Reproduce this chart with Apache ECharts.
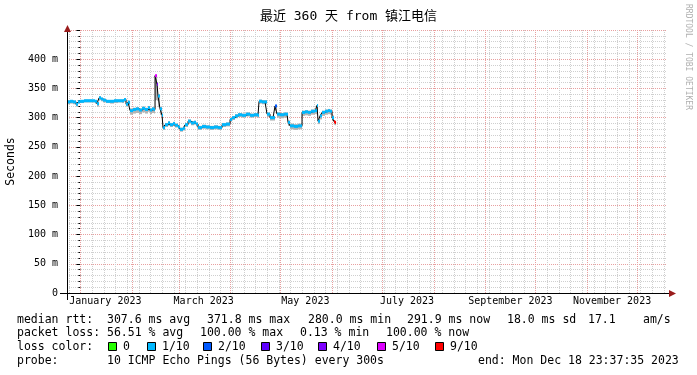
<!DOCTYPE html>
<html><head><meta charset="utf-8">
<script src="https://cdn.jsdelivr.net/npm/echarts@6/dist/echarts.min.js"></script>
<style>html,body{margin:0;padding:0;background:#fff}#c{width:697px;height:375px}</style>
</head><body><div id="c"></div>
<script>
// x values: days since 2023-01-01 00:00
const days    = [-8.0,-6.2,-4.4,-2.6,-1.4,-0.2,2.2,4.6,7.0,8.8,10.0,11.2,12.4,13.6,15.4,17.8,20.2,22.6,25.0,26.2,27.4,28.6,29.2,29.8,31.6,33.4,35.2,37.0,38.8,40.6,41.8,43.0,44.2,44.8,46.0,46.6,47.8,49.0,49.6,50.8,52.6,53.8,55.6,56.8,58.6,59.8,61.6,62.8,64.6,66.4,68.2,69.4,70.6,73.0,75.4,77.8,80.2,82.6,85.0,87.4,89.8,91.0,92.8,94.6,97.0,99.4,101.8,104.2,106.6,107.2,109.0,110.8,112.0,113.8,115.6,116.8,118.0,119.8,122.2,124.0,124.6,125.8,128.2,130.6,131.8,133.0,134.8,136.6,138.4,140.8,142.0,142.6,143.8,145.0,146.8,148.6,149.8,151.0,152.2,152.8];
const median  = [327,328,327,323,327,328,329,329,329,328,324,334,332,330,328,328,329,329,329,331,323,327,326,312,314,315,313,316,314,317,313,315,314,371.8,357,337,315,304,283,288,291,288,290,287,284,280.0,282,288,294,291,292,289,283,285,284,283,284,283,288,289,297,300,303,305,304,306,304,305,304,328,327,327,306,300,300,320,306,305,306,306,292,286,285,286,286,309,310,309,311,312,321,294,303,309,311,312,311,300,293,291.9];
const smokeLo = [323,324,323,319,324,325,326,326,326,324,319,330,328,326,325,324,325,326,325,327,319,323,322,305,307,308,306,309,307,310,306,308,307,330,330,318,305,298,279,284,287,284,286,283,280,276,278,284,290,287,288,285,279,281,280,279,280,279,284,285,293,296,299,301,300,302,300,301,300,324,323,323,301,295,295,312,300,299,300,300,286,280,279,280,280,303,304,303,305,306,312,289,297,303,305,306,305,295,288,287];
const smokeHi = [330,330,329,326,329,330,331,331,330,330,327,337,334,332,330,330,331,331,331,333,326,329,328,316,317,318,316,319,317,320,316,318,317,372,360,340,318,307,286,291,294,291,293,290,287,283,285,291,297,294,295,292,286,288,287,286,287,286,291,292,300,303,306,308,307,309,307,308,307,331,330,330,309,303,303,322,309,308,309,309,295,290,289,290,290,312,313,312,314,315,323,298,306,312,314,315,314,304,296,295];
const lossLevel = [1,1,1,1,1,1,1,1,1,1,1,1,1,1,1,1,1,1,1,1,1,1,1,1,1,1,1,1,1,1,1,1,1,5,4,1,1,1,1,1,1,1,1,1,1,1,1,1,1,1,1,1,1,1,1,1,1,1,1,1,1,1,1,1,1,1,1,1,1,1,1,1,1,1,1,2,1,1,1,1,1,1,1,1,1,1,1,1,1,1,1,1,1,1,1,1,1,1,9,9];
const lastDay = 153.4;

const xMin = -8.02, xMax = 351.98;
const yMin = 0, yMax = 450, yStep = 50;
const monthStarts = [0,31,59,90,120,151,181,212,243,273,304,334];
const monthLabelDays = [15,74,135,196,258,319];
const monthLabels = ['January 2023','March 2023','May 2023','July 2023','September 2023','November 2023'];
const weekLines = [-7,0,7,14,21,28,35,42,49,56,63,70,77,84,91,98,105,112,119,126,133,140,147,154,161,168,175,182,189,196,203,210,217,224,231,238,245,252,259,266,273,280,287,294,301,308,315,322,329,336,343,350];

const lossLevels = [0,1,2,3,4,5,9];
const lossLabels = ['0','1/10','2/10','3/10','4/10','5/10','9/10'];
const lossColors = ['#26ff00','#00b8ff','#0059ff','#5e00ff','#7e00ff','#dd00ff','#ff0000'];

const titleText = '最近 360 天 from 镇江电信';
const row1 = [['median rtt:',17],['307.6 ms avg',107],['371.8 ms max',207],['280.0 ms min',308],['291.9 ms now',407],['18.0 ms sd',507],['17.1',588],['am/s',643]];
const row2 = [['packet loss:',17],['56.51 % avg',107],['100.00 % max',200],['0.13 % min',300],['100.00 % now',386]];
const row4 = [['probe:',17],['10 ICMP Echo Pings (56 Bytes) every 300s',107],['end: Mon Dec 18 23:37:35 2023',478]];
const lossKeyX = [108,147,203,261,318,377,435];

const mono = '"DejaVu Sans Mono", monospace';
const minorGrid = '#cfcfcf', majorGrid = '#e8a0a0';
const nextDay = i => (i + 1 < days.length ? days[i + 1] : lastDay);
const colorOf = lv => lossColors[lossLevels.indexOf(lv)];

const smokeData = days.map((d, i) => [d, nextDay(i), smokeLo[i], smokeHi[i]]);
const chunkData = days.map((d, i) => [d, nextDay(i), median[i], lossLevel[i]]);
const stepData = days.map((d, i) => [d, median[i]]).concat([[lastDay, median[median.length - 1]]]);
const vGridData = weekLines.map(d => [d, 0]).concat(monthStarts.map(d => [d, 1]));
const labelData = monthLabelDays.map((d, i) => [d, i]);

const chart = echarts.init(document.getElementById('c'), null, {renderer: 'canvas'});
const graphics = [];
function txt(t, x, y, font, fill) {
  graphics.push({type: 'text', x: x, y: y, silent: true,
    style: {text: t, font: font, fill: fill || '#000', align: 'left', verticalAlign: 'middle'}});
}
row1.forEach(r => txt(r[0], r[1], 320, '11.5px ' + mono));
row2.forEach(r => txt(r[0], r[1], 333, '11.5px ' + mono));
txt('loss color:', 17, 347, '11.5px ' + mono);
lossLabels.forEach((l, i) => {
  graphics.push({type: 'rect', shape: {x: lossKeyX[i] + 0.5, y: 342.5, width: 8, height: 8},
    style: {fill: lossColors[i], stroke: '#000', lineWidth: 1}});
  txt(l, lossKeyX[i] + 15, 347, '11.5px ' + mono);
});
row4.forEach(r => txt(r[0], r[1], 361, '11.5px ' + mono));
graphics.push({type: 'text', x: 688, y: 4, rotation: -Math.PI / 2, silent: true,
  style: {text: 'RRDTOOL / TOBI OETIKER', font: '8px ' + mono, fill: '#b0b0b0', align: 'left', verticalAlign: 'middle'}});
graphics.push({type: 'line', shape: {x1: 60, y1: 293.5, x2: 672, y2: 293.5}, style: {stroke: '#000', lineWidth: 1}, z: 10});
graphics.push({type: 'line', shape: {x1: 67.5, y1: 300, x2: 67.5, y2: 30}, style: {stroke: '#000', lineWidth: 1}, z: 10});
graphics.push({type: 'polygon', shape: {points: [[669, 290], [676, 293.5], [669, 297]]}, style: {fill: '#9a1c1c'}, z: 10});
graphics.push({type: 'polygon', shape: {points: [[64, 32], [67.5, 25], [71, 32]]}, style: {fill: '#9a1c1c'}, z: 10});

const option = {
  backgroundColor: '#fff',
  animation: false,
  title: {text: titleText, left: 'center', top: 5,
    textStyle: {fontFamily: '"DejaVu Sans Mono", "Noto Sans CJK SC", monospace', fontSize: 13, fontWeight: 'normal', color: '#000'}},
  grid: {left: 67, top: 30, width: 600, height: 263, containLabel: false, outerBoundsMode: 'none'},
  xAxis: {type: 'value', min: xMin, max: xMax, scale: true,
    axisLine: {show: false}, axisTick: {show: false}, axisLabel: {show: false}, splitLine: {show: false}},
  yAxis: {type: 'value', min: yMin, max: yMax, interval: yStep,
    name: 'Seconds', nameLocation: 'middle', nameGap: 50, nameRotate: 90,
    nameTextStyle: {fontFamily: mono, fontSize: 11.5, color: '#000'},
    axisLine: {show: false},
    axisTick: {show: true, length: 4, lineStyle: {color: '#000'}},
    minorTick: {show: true, splitNumber: 5, length: 2, lineStyle: {color: '#000'}},
    axisLabel: {margin: 9, fontFamily: mono, fontSize: 10, color: '#000',
      formatter: v => v === 0 ? '0' : (v >= yMax ? '' : v + ' m')},
    splitLine: {show: true, lineStyle: {color: majorGrid, width: 1, type: [1, 1]}},
    minorSplitLine: {show: true, lineStyle: {color: minorGrid, width: 1, type: [1, 1]}}
  },
  series: [
    {type: 'custom', name: 'vgrid', clip: true, z: 1, silent: true, data: vGridData,
      encode: {x: 0},
      renderItem: (params, api) => {
        const a = api.coord([api.value(0), yMin]);
        const b = api.coord([api.value(0), yMax]);
        const x = Math.round(a[0]) + 0.5;
        return {type: 'line', z2: api.value(1) ? 2 : 1, shape: {x1: x, y1: a[1], x2: x, y2: b[1]},
          style: {stroke: api.value(1) ? majorGrid : minorGrid, lineWidth: 1, lineDash: [1, 1]}};
      }},
    {type: 'custom', name: 'xlabels', clip: false, z: 1, silent: true, data: labelData,
      encode: {x: 0},
      renderItem: (params, api) => {
        const a = api.coord([api.value(0), yMin]);
        return {type: 'text', x: a[0], y: a[1] + 8,
          style: {text: monthLabels[api.value(1)], font: '10px ' + mono, fill: '#000', align: 'center', verticalAlign: 'middle'}};
      }},
    {type: 'custom', clip: true, z: 2, data: smokeData,
      encode: {x: [0, 1], y: [2, 3]},
      renderItem: (params, api) => {
        const a = api.coord([api.value(0), api.value(2)]);
        const b = api.coord([api.value(1), api.value(3)]);
        return {type: 'rect', shape: {x: a[0], y: b[1], width: b[0] - a[0], height: a[1] - b[1]},
          style: {fill: '#b4b4b4'}};
      }},
    {type: 'line', step: 'end', z: 3, data: stepData, symbol: 'none',
      lineStyle: {color: '#000', width: 1}},
    {type: 'custom', clip: true, z: 4, data: chunkData,
      encode: {x: [0, 1], y: 2},
      renderItem: (params, api) => {
        const a = api.coord([api.value(0), api.value(2)]);
        const b = api.coord([api.value(1), api.value(2)]);
        return {type: 'rect', shape: {x: a[0], y: a[1] - 1.5, width: Math.max(1, b[0] - a[0]), height: 3},
          style: {fill: colorOf(api.value(3))}};
      }}
  ],
  graphic: graphics
};
chart.setOption(option);
</script></body></html>
